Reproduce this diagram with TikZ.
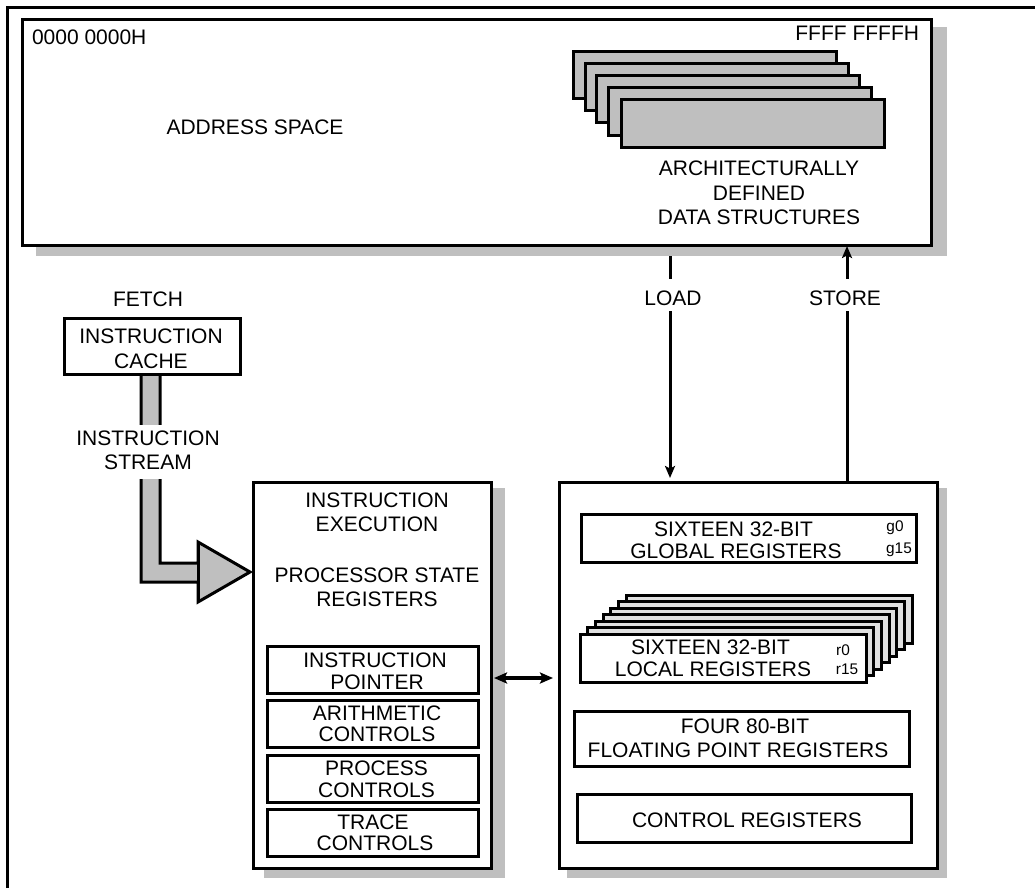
\documentclass[tikz,border=0pt]{standalone}
\usepackage{fontspec}
\setmainfont{Liberation Sans}
\usetikzlibrary{arrows.meta}
\definecolor{shade}{HTML}{BFBFBF}
\definecolor{layer}{HTML}{E0E0E0}
\tikzset{
  x=1pt,y=-1pt,
  every node/.style={inner sep=0pt,outer sep=0pt},
  label/.style={font=\fontsize{21}{24.5}\selectfont,align=center,anchor=center},
  tight/.style={font=\fontsize{21}{21.5}\selectfont,align=center,anchor=center},
  tiny/.style={font=\fontsize{15.4}{18}\selectfont,anchor=center},
  frameline/.style={line width=3pt},
  boxnode/.style={draw=black,line width=3pt,line join=miter,rectangle,anchor=center},
  shadow/.style={fill=shade,draw=none},
  thin arrow/.style={line width=3pt,-{Stealth[length=12pt,width=10pt,inset=2.5pt]}},
  both arrow/.style={line width=3.2pt,{Stealth[length=13pt,width=11pt,inset=2.5pt]}-{Stealth[length=13pt,width=11pt,inset=2.5pt]}},
}
% name, x1, y1, x2, y2, fill
\newcommand{\regbox}[6]{%
  \node[boxnode,fill=#6,minimum width={(#4-(#2))*1pt},minimum height={(#5-(#3))*1pt}] (#1) at ({(#2+#4)/2},{(#3+#5)/2}) {};}
\begin{document}
\begin{tikzpicture}
\useasboundingbox (0,0) rectangle (1035,888);
\fill[white] (0,0) rectangle (1035,888);
\draw[frameline] (7,888) -- (7,7.5) -- (1035,7.5);
% shadows
\fill[shadow] (36,27) rectangle (947,256);
\fill[shadow] (264,488) rectangle (505,878);
\fill[shadow] (567,488) rectangle (947,878);
% address space
\regbox{addr}{22.5}{19.5}{931.5}{245.5}{white}
\node[label,anchor=west] (lo) at (32,37) {0000 0000H};
\node[label,anchor=east] (hi) at (919,33) {FFFF FFFFH};
\node[label] (as) at (255,127) {ADDRESS SPACE};
\regbox{ds1}{573}{52}{836}{99}{shade}
\regbox{ds2}{585}{64}{848}{111}{shade}
\regbox{ds3}{596}{76}{859}{123}{shade}
\regbox{ds4}{608}{88}{871}{135}{shade}
\regbox{ds5}{621}{100}{884}{147}{shade}
\node[label] (ads) at (759,193) {ARCHITECTURALLY\\DEFINED\hspace*{6pt}\\DATA STRUCTURES};
% fetch
\node[label] (fetch) at (148,299) {FETCH};
\draw[line width=3pt,fill=shade,line join=miter] (141,374) -- (141,582) -- (198,582) -- (198,602) -- (250,572) -- (198,542) -- (198,563) -- (160,563) -- (160,374);
\draw[line width=3pt] (198,542) -- (198,602);
\regbox{cachebox}{64}{318}{240}{374}{white}
\node[label] (cache) at (151,349) {INSTRUCTION\\CACHE};
\fill[white] (60,425) rectangle (240,479);
\node[label] (streamtext) at (148,450.5) {INSTRUCTION\\STREAM};
% execution
\regbox{exec}{253}{482}{491}{868}{white}
\node[label] (ie) at (377,512.5) {INSTRUCTION\\EXECUTION};
\node[label] (ps) at (377,587.5) {PROCESSOR STATE\\REGISTERS};
\regbox{ipbox}{267}{646}{478}{693}{white}
\node[tight] (ip) at (375,671.5) {INSTRUCTION\\POINTER\hspace*{-4pt}};
\regbox{acbox}{267}{700}{478}{747}{white}
\node[tight] (ac) at (377,724) {ARITHMETIC\\CONTROLS};
\regbox{pcbox}{267}{755}{478}{802}{white}
\node[tight] (pc) at (376.5,779.5) {PROCESS\\CONTROLS};
\regbox{tcbox}{267}{809}{478}{856}{white}
\node[tight] (tc) at (375,833) {TRACE\hspace*{4pt}\\CONTROLS};
% registers
\regbox{reg}{559}{482}{937}{868}{white}
\regbox{glbox}{581}{514}{916}{562}{white}
\node[tight] (gl) at (736,540.5) {SIXTEEN 32-BIT\hspace*{5pt}\\GLOBAL REGISTERS};
\node[tiny] (g0) at (895,528) {g0};
\node[tiny] (g15) at (899,550) {g15};
\foreach \i in {6,5,...,1}{
  \pgfmathsetmacro{\xa}{580+7.7*\i}
  \pgfmathsetmacro{\ya}{634-6.5*\i}
  \pgfmathsetmacro{\xb}{\xa+286}
  \pgfmathsetmacro{\yb}{\ya+48}
  \regbox{lay\i}{\xa}{\ya}{\xb}{\yb}{layer}
}
\regbox{lrbox}{580}{634}{866}{682}{white}
\node[tight] (lr) at (713,658.5) {SIXTEEN 32-BIT\hspace*{5pt}\\LOCAL REGISTERS};
\node[tiny] (r0) at (843,650) {r0};
\node[tiny] (r15) at (847,669) {r15};
\regbox{fpbox}{574}{711}{909}{766}{white}
\node[font=\fontsize{21}{24}\selectfont,align=center] (fp) at (738,738) {\hspace*{14pt}FOUR 80-BIT\\FLOATING POINT REGISTERS};
\regbox{crbox}{577}{794}{911}{842}{white}
\node[label] (cr) at (747,820) {CONTROL REGISTERS};
% connectors
\coordinate (loadtop) at (670,256);
\coordinate (storetop) at (847,246);
\coordinate (da) at (494,678);
\draw[thin arrow,shorten >=4pt] (loadtop) -- (loadtop |- reg.north);
\draw[thin arrow] (storetop |- reg.north) -- (storetop);
\draw[both arrow,shorten <=3pt,shorten >=6pt] (exec.east |- da) -- (reg.west |- da);
\fill[white] (630,279) rectangle (710,311);
\fill[white] (805,279) rectangle (890,311);
\node[label] (load) at (673,298) {LOAD};
\node[label] (store) at (845,298) {STORE};
\end{tikzpicture}
\end{document}
